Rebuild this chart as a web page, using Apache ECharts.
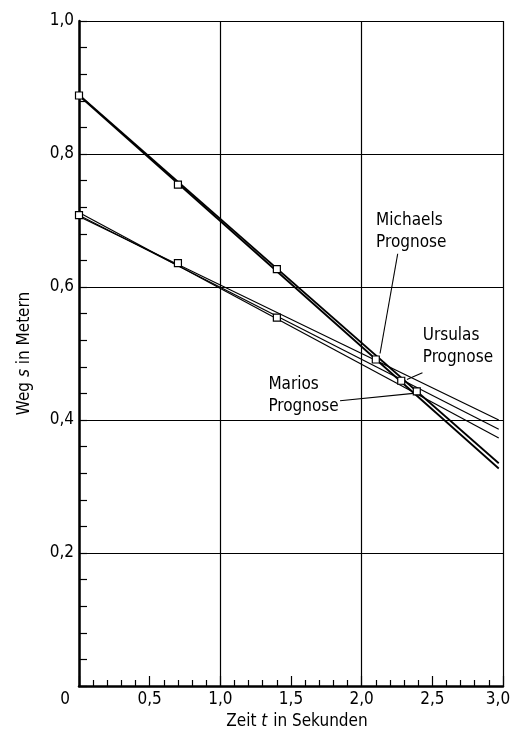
<!DOCTYPE html>
<html>
<head>
<meta charset="utf-8">
<script src="https://cdn.jsdelivr.net/npm/echarts@6/dist/echarts.min.js"></script>
<style>
  html, body { margin: 0; padding: 0; background: #fff; }
  #c { width: 515px; height: 735px; }
</style>
</head>
<body>
<div id="c"></div>
<script>
// Measured positions of the two bodies (time in s, distance in m)
const tUpper = [0, 0.7, 1.4, 2.1];
const sUpper = [0.888, 0.754, 0.627, 0.491];
const tLower = [0, 0.7, 1.4];
const sLower = [0.708, 0.636, 0.554];

// Predicted meeting points of Ursula and Mario
const tMeet = [2.28, 2.39];
const sMeet = [0.459, 0.443];

// Straight guide lines: start and end time, and the distance at each
const guideT = [0, 2.97];
const upperGuideA = [0.888, 0.327];
const upperGuideB = [0.889, 0.335];
const michaelLine = [0.706, 0.400];
const ursulaLine = [0.708, 0.386];
const marioLine = [0.712, 0.373];

// Axis tick labels
const xTicks = [0, 0.5, 1.0, 1.5, 2.0, 2.5, 3.0];
const yTicks = [0, 0.2, 0.4, 0.6, 0.8, 1.0];

const labelNames = ['Michaels\nPrognose', 'Ursulas\nPrognose', 'Marios\nPrognose'];

const FONT = '"DejaVu Sans Condensed", "Liberation Sans Narrow", "DejaVu Sans", sans-serif';
const FS = 17;
const INK = '#000';
const comma = v => v.toFixed(1).replace('.', ',');

const pairs = (ts, ss) => ts.map((t, i) => [t, ss[i]]);

function guide(values, width) {
  return {
    type: 'line',
    data: pairs(guideT, values),
    symbol: 'none',
    silent: true,
    z: 3,
    lineStyle: { color: INK, width: width }
  };
}

const chart = echarts.init(document.getElementById('c'), null, { renderer: 'canvas' });

chart.setOption({
  animation: false,
  backgroundColor: '#fff',
  textStyle: { fontFamily: FONT },
  grid: { left: 79, right: 12, top: 21, bottom: 49 },
  xAxis: [
    {
      type: 'value',
      min: xTicks[0],
      max: xTicks[xTicks.length - 1],
      interval: 0.5,
      axisLine: { show: true, onZero: false, lineStyle: { color: INK, width: 2.5 } },
      axisTick: { show: true, inside: true, length: 10, lineStyle: { color: INK, width: 1.2 } },
      minorTick: { show: true, splitNumber: 5, length: 6, lineStyle: { color: INK, width: 1.2 } },
      splitLine: { show: false },
      axisLabel: {
        color: INK, fontSize: FS, fontFamily: FONT, margin: 5,
        formatter: v => {
          if (v === 0) return '{o|0}';
          if (v === 3) return '{e|' + comma(v) + '}';
          return comma(v);
        },
        rich: {
          o: { fontSize: FS, fontFamily: FONT, color: INK, padding: [0, 28, 0, 0] },
          e: { fontSize: FS, fontFamily: FONT, color: INK, padding: [0, 10, 0, 0] }
        }
      },
      name: '{n|Zeit }{i|t}{n| in Sekunden}',
      nameLocation: 'middle',
      nameGap: 25,
      nameTextStyle: {
        rich: {
          n: { fontSize: FS, fontFamily: FONT, color: INK },
          i: { fontSize: FS, fontFamily: FONT, color: INK, fontStyle: 'italic', padding: [0, 1, 0, 0] }
        },
        padding: [0, 0, 0, 12]
      }
    },
    {
      // coarse grid: vertical lines every second
      type: 'value',
      min: 0,
      max: 3,
      interval: 1,
      position: 'bottom',
      axisLine: { show: false },
      axisTick: { show: false },
      axisLabel: { show: false },
      splitLine: { show: true, lineStyle: { color: INK, width: 1.2 } }
    }
  ],
  yAxis: {
    type: 'value',
    min: yTicks[0],
    max: yTicks[yTicks.length - 1],
    interval: 0.2,
    axisLine: { show: true, onZero: false, lineStyle: { color: INK, width: 2.5 } },
    axisTick: { show: true, inside: true, length: 8, lineStyle: { color: INK, width: 1.2 } },
    minorTick: { show: true, splitNumber: 5, length: 8, lineStyle: { color: INK, width: 1.2 } },
    splitLine: { show: true, lineStyle: { color: INK, width: 1.2 } },
    axisLabel: {
      color: INK, fontSize: FS, fontFamily: FONT, margin: 5,
      formatter: v => (v === 0 ? '' : comma(v))
    },
    name: '{n|Weg }{i|s}{n| in Metern}',
    nameLocation: 'middle',
    nameRotate: 90,
    nameGap: 46,
    nameTextStyle: {
      rich: {
        n: { fontSize: FS, fontFamily: FONT, color: INK },
        i: { fontSize: FS, fontFamily: FONT, color: INK, fontStyle: 'italic' }
      }
    }
  },
  series: [
    guide(upperGuideA, 1.8),
    guide(upperGuideB, 1.8),
    guide(michaelLine, 1.2),
    guide(ursulaLine, 1.2),
    guide(marioLine, 1.2),
    {
      // leader lines from the notes to the meeting points
      type: 'line',
      data: [],
      silent: true,
      markLine: {
        silent: true,
        symbol: 'none',
        animation: false,
        label: { show: false },
        lineStyle: { color: INK, width: 1.1, type: 'solid', opacity: 1 },
        data: [
          [{ coord: [2.255, 0.650] }, { coord: [2.130, 0.500] }],
          [{ coord: [2.430, 0.471] }, { coord: [2.320, 0.461] }],
          [{ coord: [1.847, 0.429] }, { coord: [2.366, 0.440] }]
        ]
      }
    },
    {
      type: 'scatter',
      data: pairs(tUpper, sUpper).concat(pairs(tLower, sLower), pairs(tMeet, sMeet)),
      symbol: 'rect',
      symbolSize: 7,
      silent: true,
      z: 6,
      itemStyle: { color: '#fff', borderColor: INK, borderWidth: 1.2, opacity: 1 }
    },
    {
      // prognosis notes
      type: 'scatter',
      symbolSize: 0,
      silent: true,
      z: 7,
      itemStyle: { opacity: 1 },
      data: [
        { value: [2.102, 0.6835], name: labelNames[0] },
        { value: [2.432, 0.5108], name: labelNames[1] },
        { value: [1.340, 0.4362], name: labelNames[2] }
      ],
      label: {
        show: true,
        position: [0, 0],
        align: 'left',
        verticalAlign: 'middle',
        formatter: p => p.name,
        fontSize: FS,
        lineHeight: 22,
        fontFamily: FONT,
        color: INK
      }
    }
  ]
});
</script>
</body>
</html>
